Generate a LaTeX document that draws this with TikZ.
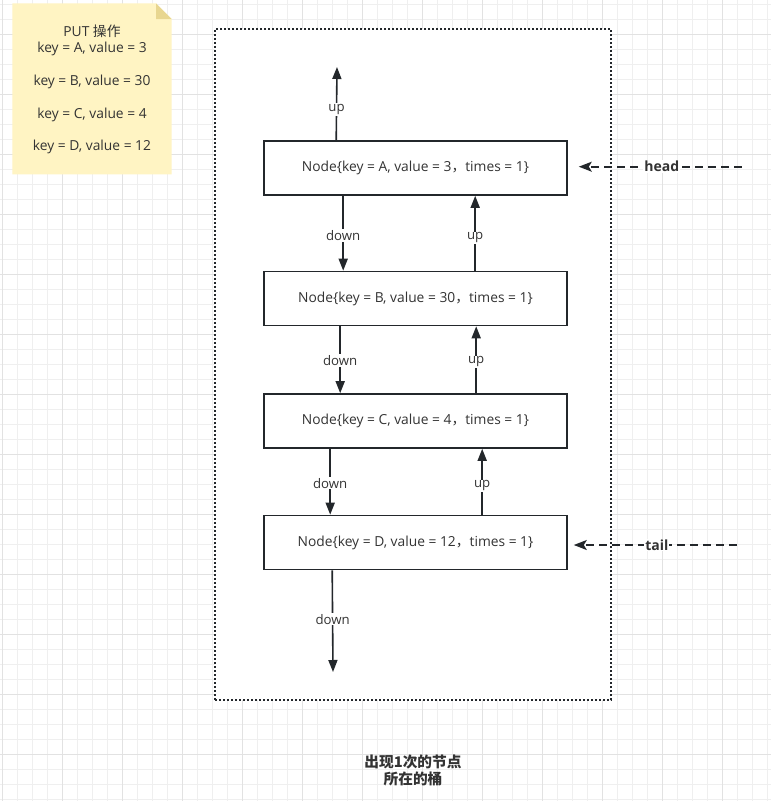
\documentclass[tikz,border=0pt]{standalone}
\usepackage{fontspec}
\setmainfont{Open Sans}
\newfontfamily\cjk{Noto Sans CJK SC}
\usetikzlibrary{arrows.meta}
\definecolor{ln}{HTML}{23272B}
\definecolor{tx}{HTML}{333333}
\definecolor{gminor}{HTML}{EFEFEF}
\definecolor{gmajor}{HTML}{E2E2E2}
\definecolor{notefill}{HTML}{FFF4C3}
\definecolor{notefold}{HTML}{E8D690}
\begin{document}
\begin{tikzpicture}[x=1pt,y=-1pt,
  nodebox/.style={draw=ln,line width=1.6pt,fill=white,minimum width=303pt,minimum height=54pt,inner sep=0pt,text=tx,font=\fontsize{13.8}{16}\selectfont},
  conn/.style={draw=ln,line width=1.6pt,-{Triangle[length=12pt,width=9pt]}},
  ptr/.style={draw=ln,line width=1.6pt,dash pattern=on 8pt off 5pt,-{Stealth[length=13pt,width=10pt,inset=3pt]}},
  lbl/.style={fill=white,inner sep=1pt,text=tx,font=\fontsize{13.2}{15}\selectfont},
  plbl/.style={fill=white,inner sep=1pt,text=tx,font=\fontsize{14}{16}\selectfont\bfseries},
  container/.style={draw=ln,line width=1.6pt,dash pattern=on 1.6pt off 2.4pt,fill=white,minimum width=396pt,minimum height=671pt,inner sep=0pt}]
\useasboundingbox (0,0) rectangle (771,801);
\fill[white] (0,0) rectangle (771,801);
% grid
\foreach \i in {0,...,51} {\draw[gminor,line width=1pt] ({2.3+15*\i},0) -- ({2.3+15*\i},801);}
\foreach \j in {0,...,53} {\draw[gminor,line width=1pt] (0,{4.3+15*\j}) -- (771,{4.3+15*\j});}
\foreach \i in {0,...,12} {\draw[gmajor,line width=1pt] ({2.3+60*\i},0) -- ({2.3+60*\i},801);}
\foreach \j in {0,...,13} {\draw[gmajor,line width=1pt] (0,{34.3+60*\j}) -- (771,{34.3+60*\j});}
% note
\fill[notefill] (12.3,3.3) -- (156,3.3) -- (171.7,19) -- (171.7,174.3) -- (12.3,174.3) -- cycle;
\fill[notefold] (156,3.3) -- (171.7,19) -- (156,19) -- cycle;
\node[align=center,text=tx,font=\fontsize{13.8}{16.3}\selectfont,inner sep=0pt] (note) at (92,89.5)
  {PUT {\cjk 操作}\\key = A, value = 3\\[16.3pt]key = B, value = 30\\[16.3pt]key = C, value = 4\\[16.3pt]key = D, value = 12};
% container
\node[container] (bucket) at (413,364.5) {};
% nodes
\node[nodebox] (A) at (415.5,168) {Node\{key = A, value = 3{\cjk ，}times = 1\}};
\node[nodebox] (B) at (415.5,298.5) {Node\{key = B, value = 30{\cjk ，}times = 1\}};
\node[nodebox] (C) at (415.5,421) {Node\{key = C, value = 4{\cjk ，}times = 1\}};
\node[nodebox] (D) at (415.5,542.5) {Node\{key = D, value = 12{\cjk ，}times = 1\}};
\coordinate (topA) at (337,67);
\coordinate (botD) at (333,672);
\coordinate (headend) at (741.7,166.7);
\coordinate (tailend) at (736.7,545);
% connectors
\draw[conn] ([xshift=73pt]A.north west) -- node[lbl,pos=0.42]{up} (topA);
\draw[conn] ([xshift=80pt]A.south west) -- node[lbl,pos=0.53]{down} ([xshift=80pt]B.north west);
\draw[conn] ([xshift=212pt]B.north west) -- node[lbl,pos=0.44]{up} ([xshift=212pt]A.south west);
\draw[conn] ([xshift=77pt]B.south west) -- node[lbl,pos=0.51]{down} ([xshift=77pt]C.north west);
\draw[conn] ([xshift=213pt]C.north west) -- node[lbl,pos=0.47]{up} ([xshift=213pt]B.south west);
\draw[conn] ([xshift=67pt]C.south west) -- node[lbl,pos=0.52]{down} ([xshift=67pt]D.north west);
\draw[conn] ([xshift=219pt]D.north west) -- node[lbl,pos=0.44]{up} ([xshift=219pt]C.south west);
\draw[conn] ([xshift=69pt]D.south west) -- node[lbl,pos=0.48]{down} (botD);
\draw[ptr] (headend) -- node[plbl,pos=0.49]{head} ([xshift=11pt,yshift=1.3pt]A.east);
\draw[ptr] (tailend) -- node[plbl,pos=0.49]{tail} ([xshift=6pt,yshift=-2.5pt]D.east);
% caption
\node[align=center,text=tx,font=\fontsize{14.7}{17.5}\selectfont\bfseries\cjk,inner sep=0pt] (cap) at (413,770.5) {出现1次的节点\\所在的桶};
\end{tikzpicture}
\end{document}
